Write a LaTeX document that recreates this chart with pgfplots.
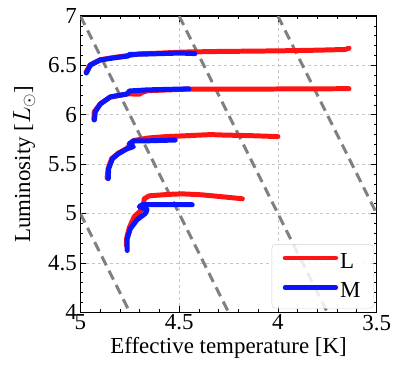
\documentclass[border={10pt 6.7pt 2.7pt 5.3pt}]{standalone}
\usepackage{pgfplots}
\pgfplotsset{compat=1.18}
\usepackage{fontspec}
\setmainfont{Liberation Serif}
\definecolor{trkred}{RGB}{255,20,20}
\definecolor{trkblue}{RGB}{10,20,255}
\definecolor{rgray}{RGB}{128,128,128}
\begin{document}
\begin{tikzpicture}
\begin{axis}[
  width=297pt, height=297pt, scale only axis,
  xmin=3.5, xmax=5, x dir=reverse,
  ymin=4, ymax=7,
  xtick={3.5,4,4.5,5}, ytick={4,4.5,5,5.5,6,6.5,7},
  minor x tick num=4, minor y tick num=4,
  tick align=inside,
  major tick length=6pt, minor tick length=3pt,
  tick style={black, line width=0.8pt},
  axis line style={line width=1.3pt},
  grid=major,
  major grid style={dashed, gray!45, line width=0.8pt},
  /pgf/number format/assume math mode=true,
  tick label style={font=\fontsize{23}{23}\selectfont},
  label style={font=\fontsize{23}{23}\selectfont},
  xlabel={Effective temperature [K]},
  ylabel={Luminosity [$L_\odot$]},
  ylabel style={yshift=6pt},
  xticklabel style={yshift=1pt},
  clip=true,
  legend style={at={(0.99,0.013)}, anchor=south east, draw=gray!35, rounded corners=4pt,
    fill=white, fill opacity=0.85, text opacity=1, font=\fontsize{23}{23}\selectfont,
    row sep=9pt, inner xsep=11pt, inner ysep=7pt,
    /tikz/every even column/.append style={column sep=14pt}},
  legend cell align=left,
  legend image code/.code={\draw[#1, line width=4.5pt] (0pt,0.35em) -- (51pt,0.35em);},
]
% constant-radius lines
\addplot[rgray, line width=3pt, dash pattern=on 10pt off 6pt, forget plot] coordinates {(5,5) (4.75,4)};
\addplot[rgray, line width=3pt, dash pattern=on 10pt off 6pt, forget plot] coordinates {(5,7) (4.25,4)};
\addplot[rgray, line width=3pt, dash pattern=on 10pt off 6pt, forget plot] coordinates {(4.5,7) (3.75,4)};
\addplot[rgray, line width=3pt, dash pattern=on 10pt off 6pt, forget plot] coordinates {(4,7) (3.5,5)};

% ---- L (red) tracks ----
\addplot[trkred, line width=5pt, line cap=round, line join=round] coordinates {
(4.972,6.43) (4.952,6.505) (4.90,6.558) (4.835,6.580) (4.76,6.600) (4.70,6.618) (4.60,6.625) (4.48,6.636) (4.30,6.642) (4.00,6.648) (3.80,6.655) (3.66,6.662) (3.64,6.675)};
\addlegendentry{L}
\addplot[trkred, line width=5pt, line cap=round, line join=round, forget plot] coordinates {
(4.932,5.95) (4.93,6.03) (4.90,6.11) (4.85,6.18) (4.76,6.212) (4.70,6.21) (4.69,6.225) (4.66,6.245) (4.46,6.26) (4.20,6.26) (4.00,6.262) (3.64,6.265)};
\addplot[trkred, line width=5pt, line cap=round, line join=round, forget plot] coordinates {
(4.865,5.36) (4.86,5.455) (4.842,5.556) (4.81,5.61) (4.765,5.66) (4.745,5.70) (4.73,5.74) (4.66,5.765) (4.58,5.778) (4.45,5.79) (4.34,5.80) (4.27,5.795) (4.15,5.79) (4.00,5.78)};
\addplot[trkred, line width=5pt, line cap=round, line join=round, forget plot] coordinates {
(4.768,4.68) (4.765,4.76) (4.752,4.86) (4.727,4.97) (4.69,5.04) (4.68,5.10) (4.677,5.15) (4.652,5.18) (4.55,5.195) (4.485,5.20) (4.384,5.19) (4.28,5.17) (4.18,5.15)};

% ---- M (blue) tracks ----
\addplot[trkblue, line width=5pt, line cap=round, line join=round] coordinates {
(4.970,6.424) (4.949,6.505) (4.899,6.556) (4.833,6.576) (4.758,6.596) (4.752,6.612) (4.662,6.616) (4.495,6.626) (4.42,6.62)};
\addlegendentry{M}
\addplot[trkblue, line width=5pt, line cap=round, line join=round, forget plot] coordinates {
(4.929,5.949) (4.925,6.03) (4.899,6.111) (4.848,6.182) (4.763,6.212) (4.752,6.242) (4.662,6.253) (4.46,6.263) (4.45,6.262)};
\addplot[trkblue, line width=5pt, line cap=round, line join=round, forget plot] coordinates {
(4.859,5.354) (4.857,5.455) (4.838,5.556) (4.808,5.606) (4.763,5.657) (4.732,5.677) (4.753,5.707) (4.732,5.737) (4.66,5.737) (4.52,5.745)};
\addplot[trkblue, line width=5pt, line cap=round, line join=round, forget plot] coordinates {
(4.763,4.626) (4.763,4.747) (4.747,4.848) (4.712,4.94) (4.672,5.0) (4.662,5.04) (4.702,5.07) (4.687,5.09) (4.55,5.09) (4.434,5.09)};
\end{axis}
\end{tikzpicture}
\end{document}
